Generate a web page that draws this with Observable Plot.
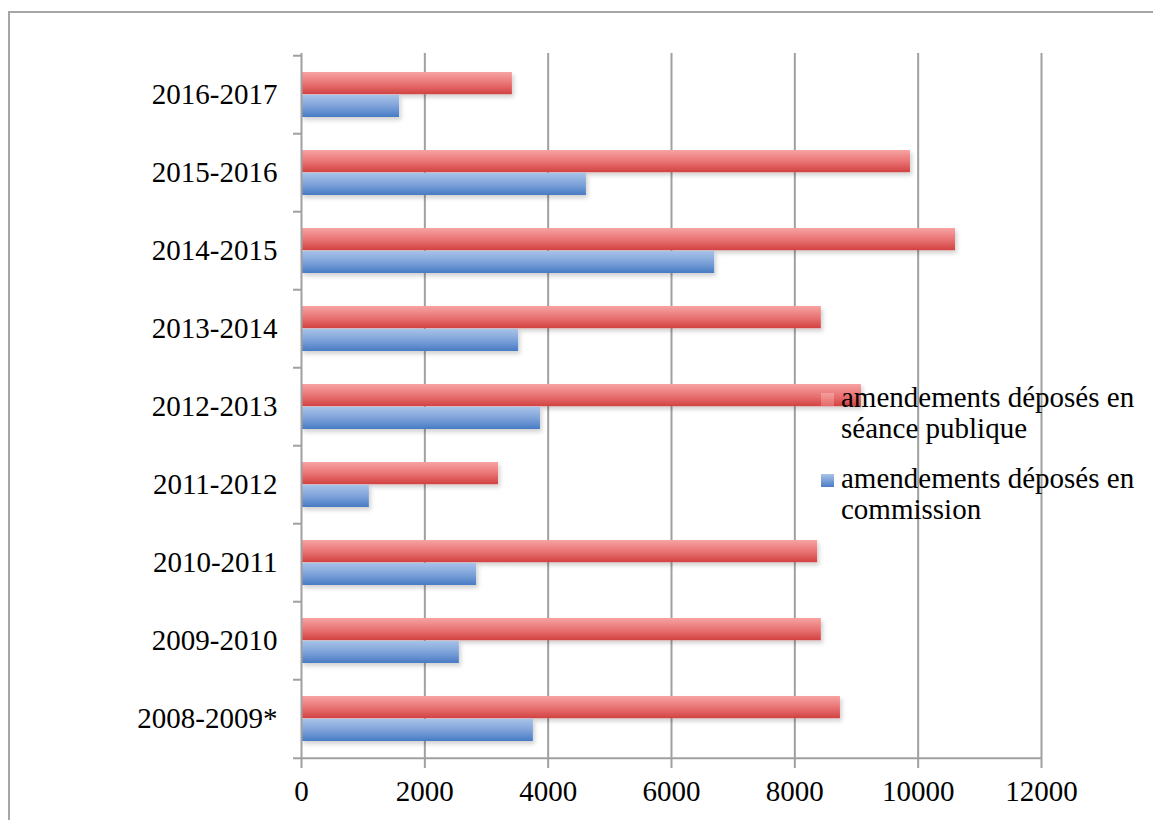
<!DOCTYPE html>
<html><head><meta charset="utf-8">
<script src="https://cdn.jsdelivr.net/npm/d3@7"></script>
<script src="https://cdn.jsdelivr.net/npm/@observablehq/plot@0.6"></script>
<style>
html,body{margin:0;padding:0;background:#fff;}
#wrap{position:relative;width:1153px;height:820px;overflow:hidden;font-family:"Liberation Serif",serif;}
#border{position:absolute;left:8px;top:11px;width:1200px;height:830px;border:2px solid #a6a6a6;box-sizing:border-box;}
#chart{position:absolute;left:0;top:0;}
.leg{position:absolute;left:821px;font-size:29px;line-height:31px;color:#000;}
.leg .sw{position:absolute;left:0;top:11px;width:13px;height:13px;}
.leg .tx{margin-left:20px;white-space:nowrap;}
</style></head>
<body>
<div id="wrap"><div id="border"></div><div id="chart"></div>
<div class="leg" style="top:382px"><div class="sw" style="background:linear-gradient(#f6a3a3,#e87070);opacity:0.85"></div><div class="tx">amendements déposés en<br>séance publique</div></div>
<div class="leg" style="top:463px"><div class="sw" style="background:linear-gradient(#a9c3e8,#4a7dc6)"></div><div class="tx">amendements déposés en<br>commission</div></div>
</div>
<script>
const categories = ["2008-2009*","2009-2010","2010-2011","2011-2012","2012-2013","2013-2014","2014-2015","2015-2016","2016-2017"];
const seancePublique = [8740, 8430, 8370, 3195, 9080, 8430, 10605, 9875, 3420];
const commission = [3760, 2560, 2840, 1100, 3875, 3520, 6700, 4620, 1590];
const xTicks = [0, 2000, 4000, 6000, 8000, 10000, 12000];

const W = 1153, H = 820, mt = 53, mb = 60, ml = 301, mr = 112;
const pInner = 0.42;
const step = (H - mt - mb) / categories.length;
const bw = step * (1 - pInner);
const grid = "#a0a0a0";

const rowsS = categories.map((c, i) => ({cat: c, v: seancePublique[i]}));
const rowsC = categories.map((c, i) => ({cat: c, v: commission[i]}));

const svg = Plot.plot({
  width: W, height: H,
  marginTop: mt, marginBottom: mb, marginLeft: ml, marginRight: mr,
  style: {fontFamily: "Liberation Serif", fontSize: "29px", color: "#000", background: "transparent", overflow: "visible"},
  x: {domain: [0, 12000], label: null},
  y: {domain: categories.slice().reverse(), paddingInner: pInner, paddingOuter: pInner / 2, label: null},
  marks: [
    Plot.ruleX(xTicks.slice(1), {x: d => d, stroke: grid, strokeWidth: 2, insetBottom: -8}),
    Plot.barX(rowsS, {x: "v", y: "cat", fill: "url(#gRed)", insetBottom: bw / 2}),
    Plot.barX(rowsC, {x: "v", y: "cat", fill: "url(#gBlue)", insetTop: bw / 2}),
    Plot.ruleX([0], {stroke: grid, strokeWidth: 2, insetBottom: -8}),
    Plot.ruleY([categories[0]], {y: d => d, x1: 0, x2: 12000, dy: step / 2, insetLeft: -8, stroke: grid, strokeWidth: 2}),
    Plot.axisY({tickSize: 8, text: null, dy: -step / 2, stroke: grid, strokeWidth: 2, label: null}),
    Plot.axisY({tickSize: 0, tickPadding: 24, fill: "#000", label: null}),
    Plot.axisX({ticks: xTicks, tickSize: 0, tickPadding: 20, fill: "#000", tickFormat: d => String(d), label: null})
  ]
});

const s = d3.select(svg);
const defs = s.insert("defs", ":first-child");
const gr = defs.append("linearGradient").attr("id", "gRed").attr("x1", 0).attr("y1", 0).attr("x2", 0).attr("y2", 1);
gr.append("stop").attr("offset", "0").attr("stop-color", "#f7a3a3");
gr.append("stop").attr("offset", "0.5").attr("stop-color", "#ea7575");
gr.append("stop").attr("offset", "1").attr("stop-color", "#d24242");
const gb = defs.append("linearGradient").attr("id", "gBlue").attr("x1", 0).attr("y1", 0).attr("x2", 0).attr("y2", 1);
gb.append("stop").attr("offset", "0").attr("stop-color", "#a8c3e8");
gb.append("stop").attr("offset", "0.5").attr("stop-color", "#7fa3da");
gb.append("stop").attr("offset", "1").attr("stop-color", "#477bc4");
const f = defs.append("filter").attr("id", "shadow").attr("x", "-10%").attr("y", "-30%").attr("width", "130%").attr("height", "180%");
f.append("feDropShadow").attr("dx", 2).attr("dy", 3).attr("stdDeviation", 2).attr("flood-color", "#000").attr("flood-opacity", 0.18);
s.selectAll("g[aria-label='bar'] rect").attr("filter", "url(#shadow)");

document.getElementById("chart").appendChild(svg);
</script>
</body></html>
